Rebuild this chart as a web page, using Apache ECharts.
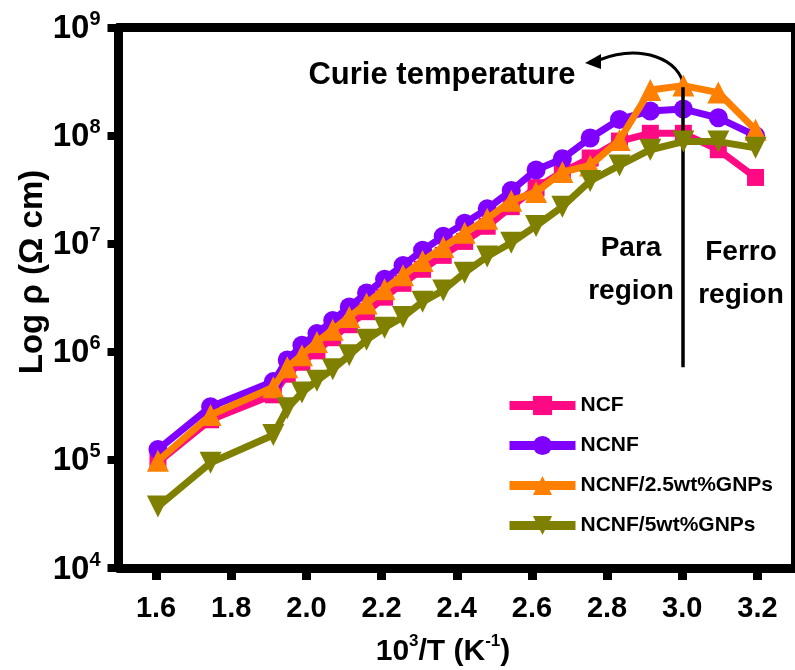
<!DOCTYPE html>
<html><head><meta charset="utf-8">
<script src="https://cdn.jsdelivr.net/npm/echarts@6/dist/echarts.min.js"></script>
<style>html,body{margin:0;padding:0;background:#fff}#c{width:795px;height:670px}</style>
</head><body><div id="c"></div>
<script>
const xVals = [1.605, 1.745, 1.912, 1.949, 1.988, 2.028, 2.070, 2.114, 2.160, 2.208, 2.257, 2.309, 2.364, 2.421, 2.481, 2.545, 2.611, 2.681, 2.755, 2.833, 2.915, 3.003, 3.096, 3.195];
const ncf   = [9.5e4, 2.35e5, 4.0e5, 6.2e5, 8.0e5, 1.02e6, 1.35e6, 1.78e6, 2.35e6, 3.2e6, 4.3e6, 5.8e6, 7.8e6, 1.05e7, 1.45e7, 2.2e7, 3.3e7, 4.6e7, 6.2e7, 8.9e7, 1.05e8, 1.05e8, 7.4e7, 4.1e7];
const ncnf  = [1.25e5, 3.1e5, 5.3e5, 8.4e5, 1.15e6, 1.48e6, 1.95e6, 2.6e6, 3.5e6, 4.7e6, 6.3e6, 8.7e6, 1.17e7, 1.55e7, 2.1e7, 3.1e7, 4.8e7, 6.1e7, 9.5e7, 1.41e8, 1.69e8, 1.76e8, 1.46e8, 1.0e8];
const gnp25 = [9.8e4, 2.6e5, 4.7e5, 7.2e5, 9.3e5, 1.23e6, 1.6e6, 2.1e6, 2.8e6, 3.8e6, 5.1e6, 6.9e6, 9.3e6, 1.26e7, 1.7e7, 2.5e7, 3.0e7, 4.6e7, 5.3e7, 9.1e7, 2.64e8, 2.9e8, 2.5e8, 1.13e8];
const gnp5  = [3.7e4, 9.4e4, 1.7e5, 3.0e5, 4.2e5, 5.4e5, 6.9e5, 9.3e5, 1.29e6, 1.67e6, 2.1e6, 2.9e6, 3.7e6, 5.4e6, 7.6e6, 1.02e7, 1.46e7, 2.2e7, 3.8e7, 5.3e7, 7.4e7, 8.8e7, 8.8e7, 7.7e7];
const seriesNames = ['NCF', 'NCNF', 'NCNF/2.5wt%GNPs', 'NCNF/5wt%GNPs'];
const xTicks = [1.6, 1.8, 2.0, 2.2, 2.4, 2.6, 2.8, 3.0, 3.2];
const curieX = 3.0;
const curieLineY = [2.8e8, 7.2e5];

const FONT = '"Liberation Sans", Arial, sans-serif';
const NARROW = '"Liberation Sans Narrow", "Liberation Sans", Arial, sans-serif';

function pairs(ys){ return xVals.map((x,i)=>[x, ys[i]]); }

const colors = ['#ff0a84', '#8000ff', '#ff8000', '#808000'];
const symbols = ['rect', 'circle', 'triangle', 'triangle'];
const sizes = [17, 19, 22, 22];
const rot = [0, 0, 0, 180];
const dataSets = [ncf, ncnf, gnp25, gnp5];

const series = dataSets.map((d,i)=>({
  name: seriesNames[i], type: 'line', data: pairs(d),
  symbol: symbols[i], symbolSize: sizes[i], symbolRotate: rot[i],
  showAllSymbol: true,
  lineStyle: {color: colors[i], width: 7},
  itemStyle: {color: colors[i]},
  z: 2 + i, animation: false
}));
series[3].markLine = {
  silent: true, symbol: ['none','none'], animation: false,
  lineStyle: {color: '#000', width: 3.5, type: 'solid'},
  label: {show: false},
  data: [[{coord: [curieX, curieLineY[0]]}, {coord: [curieX, curieLineY[1]]}]]
};

const chart = echarts.init(document.getElementById('c'), null, {renderer: 'canvas'});
chart.setOption({
  animation: false,
  backgroundColor: '#fff',
  grid: {left: 118.5, top: 27.5, width: 680, height: 540.5},
  xAxis: [{
    type: 'value', min: 1.5, max: 3.3, position: 'bottom',
    axisLine: {lineStyle: {color: '#000', width: 9}},
    axisTick: {show: true, length: 12, lineStyle: {color: '#000', width: 9}, customValues: xTicks},
    axisLabel: {customValues: xTicks, formatter: v => v.toFixed(1), color: '#000',
      fontFamily: NARROW, fontWeight: 'bold', fontSize: 29, margin: 26},
    splitLine: {show: false}
  }, {
    type: 'value', min: 1.5, max: 3.3, position: 'top',
    axisLine: {lineStyle: {color: '#000', width: 9}},
    axisTick: {show: false}, axisLabel: {show: false}, splitLine: {show: false}
  }],
  yAxis: [{
    type: 'log', logBase: 10, min: 1e4, max: 1e9, position: 'left',
    axisLine: {lineStyle: {color: '#000', width: 9}},
    axisTick: {show: true, length: 11, lineStyle: {color: '#000', width: 8}},
    axisLabel: {
      margin: 18, color: '#000',
      formatter: v => '{b|10}{s|' + Math.round(Math.log10(v)) + '}',
      rich: {
        b: {fontFamily: FONT, fontWeight: 'bold', fontSize: 33, color: '#000', lineHeight: 36, verticalAlign: 'bottom'},
        s: {fontFamily: FONT, fontWeight: 'bold', fontSize: 20, color: '#000', lineHeight: 36, verticalAlign: 'top', padding: [0,0,14,0]}
      }
    },
    splitLine: {show: false}
  }, {
    type: 'log', logBase: 10, min: 1e4, max: 1e9, position: 'right',
    axisLine: {lineStyle: {color: '#000', width: 9}},
    axisTick: {show: false}, axisLabel: {show: false}, splitLine: {show: false}
  }],
  legend: {
    left: 500, top: 390, orient: 'vertical',
    itemWidth: 66, itemHeight: 24, itemGap: 19,
    data: seriesNames,
    lineStyle: {width: 9},
    textStyle: {fontFamily: FONT, fontWeight: 'bold', fontSize: 21, color: '#000', padding: [0,0,0,0]}
  },
  graphic: [
    {type: 'text', x: 33, y: 272, rotation: Math.PI/2,
     style: {text: 'Log ρ (Ω cm)', font: 'bold 33px ' + FONT, fill: '#000', align: 'center', verticalAlign: 'middle'}},
    {type: 'text', x: 443, y: 650,
     style: {text: '{a|10}{s|3}{a|/T (K}{s|-1}{a|)}', fill: '#000', align: 'center', verticalAlign: 'middle',
       rich: {a: {fontFamily: NARROW, fontWeight: 'bold', fontSize: 30, lineHeight: 34, verticalAlign: 'bottom'},
              s: {fontFamily: NARROW, fontWeight: 'bold', fontSize: 17, lineHeight: 34, verticalAlign: 'top', padding: [0,0,14,0]}}}},
    {type: 'text', x: 442, y: 75,
     style: {text: 'Curie temperature', font: 'bold 31px ' + FONT, fill: '#000', align: 'center', verticalAlign: 'middle'}},
    {type: 'bezierCurve', shape: {x1: 684, y1: 88, x2: 599, y2: 60, cpx1: 681, cpy1: 58, cpx2: 640, cpy2: 44},
     style: {stroke: '#000', lineWidth: 3, fill: null}},
    {type: 'polygon', shape: {points: [[585, 63], [601, 54], [601, 69]]}, style: {fill: '#000'}},
    {type: 'text', x: 631, y: 270,
     style: {text: 'Para\nregion', font: 'bold 28px ' + FONT, fill: '#000', align: 'center', verticalAlign: 'middle', lineHeight: 43}},
    {type: 'text', x: 741, y: 274,
     style: {text: 'Ferro\nregion', font: 'bold 28px ' + FONT, fill: '#000', align: 'center', verticalAlign: 'middle', lineHeight: 43}}
  ],
  series: series
});
</script></body></html>
